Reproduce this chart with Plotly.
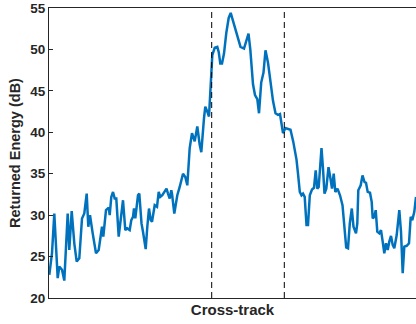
import plotly.graph_objects as go

# Cross-track position (samples from the left edge of the swath) and returned energy (dB)
cross_track = [
    0.3, 3.0, 5.3, 8.7, 10.3, 13.0, 15.3, 18.7, 20.3, 22.7, 25.3, 27.7, 30.3, 33.0, 35.3,
    37.7, 39.3, 41.0, 43.7, 47.0, 49.7, 53.0, 54.3, 57.0, 59.7, 60.7, 62.3, 64.0, 65.7,
    67.3, 69.7, 71.7, 74.0, 76.3, 78.3, 80.7, 82.3, 84.0, 85.0, 86.3, 89.0, 90.3, 92.5,
    94.0, 96.7, 98.3, 100.0, 101.7, 103.0, 105.7, 108.0, 109.7, 111.3, 113.3, 115.7,
    117.5, 119.0, 120.7, 122.3, 123.0, 125.3, 128.3, 130.7, 132.7, 134.0, 136.3, 138.3,
    140.7, 143.0, 145.7, 148.3, 150.7, 152.3, 155.0, 156.3, 158.3, 160.0, 161.7, 163.3,
    165.7, 168.3, 169.7, 171.3, 173.0, 175.0, 177.3, 179.7, 181.7, 184.3, 186.7, 189.2,
    191.5, 195.0, 197.3, 199.5, 201.3, 204.0, 206.0, 208.3, 210.0, 212.2, 214.5, 216.5,
    219.0, 221.5, 224.0, 226.5, 229.0, 231.0, 232.8, 234.0, 236.3, 238.8, 241.5, 244.2,
    247.5, 249.0, 250.8, 252.5, 254.0, 255.7, 257.5, 259.0, 260.8, 263.0, 265.0, 266.7,
    268.3, 269.7, 272.5, 274.0, 275.5, 277.3, 279.5, 281.5, 283.0, 284.7, 286.3, 288.5,
    291.0, 293.5, 295.7, 297.2, 299.0, 300.8, 302.8, 304.5, 307.0, 308.3, 309.3, 311.7,
    313.5, 315.5, 317.0, 318.7, 321.0, 322.7, 323.7, 325.3, 326.7, 328.3, 330.3, 332.0,
    333.7, 335.3, 337.0, 338.7, 340.3, 342.0, 343.7, 345.3, 347.7, 350.3, 352.0, 353.7,
    355.3, 357.7, 360.0, 361.7, 363.3, 365.3, 367.0,
]
energy_db = [
    22.8, 25.4, 30.2, 22.4, 23.8, 23.4, 22.1, 30.2, 25.8, 30.5, 26.6, 24.4, 24.8, 29.6, 30.2,
    32.6, 28.6, 30.0, 27.8, 25.4, 25.8, 28.6, 27.4, 30.6, 30.9, 30.0, 32.2, 32.8, 32.0,
    32.0, 27.4, 29.8, 31.8, 28.2, 28.4, 28.2, 29.4, 29.8, 30.8, 29.6, 32.4, 32.6, 29.0,
    28.0, 25.9, 28.6, 30.8, 29.4, 29.2, 31.2, 31.0, 32.8, 32.2, 32.4, 32.8,
    33.2, 32.6, 32.0, 33.0, 32.6, 30.2, 32.4, 33.4, 34.6, 35.0, 34.6, 33.6,
    38.1, 39.9, 38.9, 40.7, 38.5, 37.6, 41.7, 43.1, 42.5, 41.9, 45.7, 49.3,
    50.2, 50.3, 49.7, 48.3, 48.3, 49.5, 52.0, 53.8, 54.4, 53.3, 52.1, 51.0,
    50.3, 50.1, 50.9, 51.9, 50.0, 45.8, 44.5, 44.0, 42.3, 46.0, 47.2, 49.9,
    48.4, 45.9, 43.8, 42.3, 42.1, 42.2, 41.0, 39.9, 40.5, 40.4, 40.3, 38.9,
    36.7, 35.0, 32.8, 32.4, 32.6, 32.2, 28.8, 28.8, 32.4, 33.1, 33.3, 35.4,
    33.2, 33.4, 38.1, 35.6, 32.6, 33.2, 35.8, 34.4, 33.2, 35.0, 32.8, 33.2,
    32.4, 31.2, 28.6, 26.1, 26.0, 29.0, 30.8, 28.6, 27.8, 29.0, 33.0, 33.6,
    34.8, 34.0, 33.9, 32.8, 32.7, 31.6, 29.6, 29.8, 30.6, 28.0, 27.8, 28.2,
    26.8, 25.4, 26.6, 25.8, 26.8, 27.5, 26.4, 26.0, 27.6, 30.6, 28.0, 23.0,
    26.2, 26.3, 26.6, 29.8, 29.4, 30.4, 32.2,
]

# Boundaries of the high-return zone
zone_edges = [162.7, 235.3]

y_ticks = [20, 25, 30, 35, 40, 45, 50, 55]

axis_color = "#262626"
font_family = "Liberation Sans, Arial, sans-serif"

fig = go.Figure()
fig.add_trace(go.Scatter(
    x=cross_track, y=energy_db, mode="lines",
    line=dict(color="#0072BD", width=2.5),
    showlegend=False,
))

for xe in zone_edges:
    fig.add_shape(
        type="line", xref="x", yref="paper",
        x0=xe, x1=xe, y0=0, y1=1,
        line=dict(color="#000000", width=1, dash="6px,4px"),
    )

fig.update_layout(
    width=416, height=324,
    margin=dict(l=49, r=0, t=8, b=26),
    paper_bgcolor="white", plot_bgcolor="white",
    font=dict(family=font_family, color=axis_color),
    xaxis=dict(
        range=[0, 367], showgrid=False, zeroline=False,
        showline=True, linecolor=axis_color, linewidth=1, mirror=True,
        showticklabels=False, ticks="",
        title=dict(text="Cross-track", standoff=6,
                   font=dict(size=15, weight="bold", color=axis_color)),
    ),
    yaxis=dict(
        range=[20, 55], tickvals=y_ticks, showgrid=False, zeroline=False,
        showline=True, linecolor=axis_color, linewidth=1,
        ticks="inside", ticklen=4, tickcolor=axis_color,
        tickfont=dict(size=13.5, weight="bold", color=axis_color),
        title=dict(text="Returned Energy (dB)", standoff=6,
                   font=dict(size=14.5, weight="bold", color=axis_color)),
    ),
)

fig.write_html("out.html")
